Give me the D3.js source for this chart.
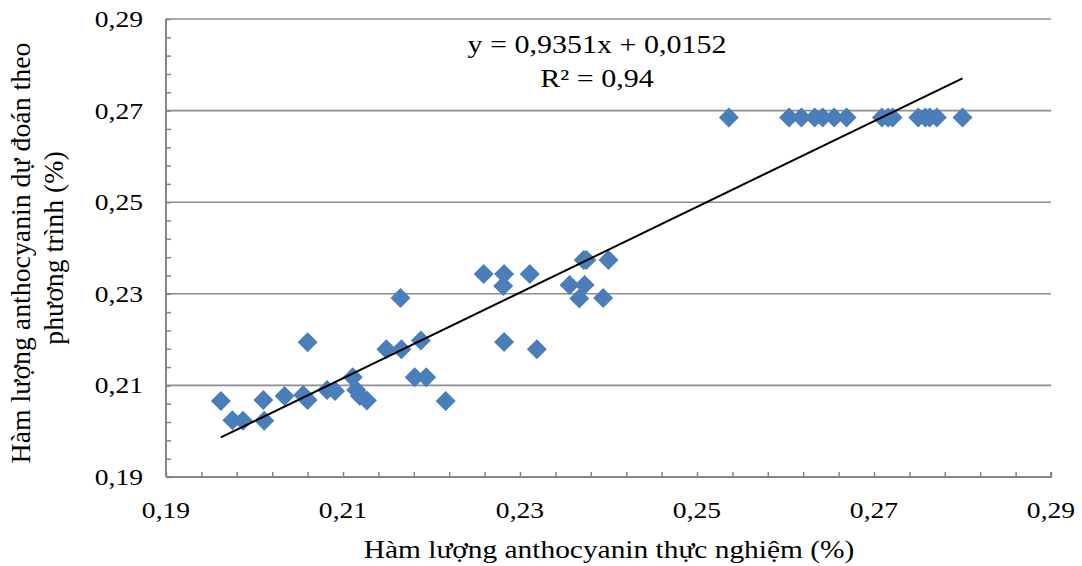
<!DOCTYPE html>
<html><head><meta charset="utf-8">
<script src="https://cdn.jsdelivr.net/npm/d3@7"></script>
<style>html,body{margin:0;padding:0;background:#fff;}svg{display:block;}</style>
</head><body>
<svg id="c" width="1082" height="566"></svg>
<script>
// Experimental (x) and predicted (y) anthocyanin content (%)
const expX = [0.1962,0.1975,0.1987,0.2010,0.2011,0.2034,0.2055,0.2060,0.2060,0.2082,0.2091,0.2111,0.2115,0.2119,0.2127,
  0.2149,0.2165,0.2166,0.2181,0.2194,0.2188,0.2216,0.2259,0.2282,0.2281,0.2311,0.2282,0.2319,0.2356,0.2367,0.2372,0.2375,0.2373,0.2394,0.2400,
  0.2536,0.2604,0.2618,0.2633,0.2642,0.2655,0.2669,0.2709,0.2716,0.2721,0.2750,0.2758,0.2763,0.2771,0.2800];
const predY = [0.2066,0.2024,0.2023,0.2068,0.2023,0.2077,0.2079,0.2068,0.2194,0.2090,0.2088,0.2118,0.2090,0.2077,0.2067,
  0.2179,0.2291,0.2179,0.2118,0.2118,0.2198,0.2066,0.2343,0.2343,0.2317,0.2343,0.2195,0.2179,0.2319,0.2290,0.2374,0.2374,0.2319,0.2291,0.2374,
  0.2685,0.2685,0.2685,0.2685,0.2685,0.2685,0.2685,0.2685,0.2685,0.2685,0.2685,0.2685,0.2685,0.2685,0.2685];
const tickValues = [0.19,0.21,0.23,0.25,0.27,0.29];
const tickLabels = ["0,19","0,21","0,23","0,25","0,27","0,29"];
const slope = 0.9351, intercept = 0.0152;
const eqText = "y = 0,9351x + 0,0152";
const r2Text = "R² = 0,94";
const xTitle = "Hàm lượng anthocyanin thực nghiệm (%)";
const yTitle = ["Hàm lượng anthocyanin dự đoán theo", "phương trình (%)"];

const svg = d3.select("#c");
const L=166, R=1051, T=19, B=477;
const x = d3.scaleLinear().domain([0.19,0.29]).range([L,R]);
const y = d3.scaleLinear().domain([0.19,0.29]).range([B,T]);
const FONT = "'Liberation Serif','Times New Roman',serif";
const SX = 1.2;
const axisCol = "#868686";

// gridlines
svg.append("g").selectAll("line").data(tickValues.slice(1)).join("line")
  .attr("x1",L).attr("x2",R).attr("y1",d=>y(d)).attr("y2",d=>y(d))
  .attr("stroke","#8e8e8e").attr("stroke-width",1.6);

// axes via d3 axis, minor ticks inward
const minor = d3.range(0,26).map(i=>0.19+i*0.004);
const xAxis = d3.axisBottom(x).tickValues(minor).tickSize(-5).tickFormat("");
const gx = svg.append("g").attr("transform",`translate(0,${B})`).call(xAxis);
gx.select(".domain").attr("d",`M${L},0H${R}V-5`).attr("stroke",axisCol).attr("stroke-width",2);
gx.selectAll(".tick line").attr("stroke",axisCol).attr("stroke-width",1.5);
const yAxis = d3.axisLeft(y).tickValues(minor).tickSize(-5).tickFormat("");
const gy = svg.append("g").attr("transform",`translate(${L},0)`).call(yAxis);
gy.select(".domain").attr("d",`M0,${T}V${B}`).attr("stroke",axisCol).attr("stroke-width",2);
gy.selectAll(".tick line").attr("stroke",axisCol).attr("stroke-width",1.5);

function stxt(tx,ty,str,size,anchor,rot){
  const t = svg.append("text")
    .attr("transform",`translate(${tx},${ty}) rotate(${rot||0}) scale(${rot?1:SX},1)`)
    .attr("text-anchor",anchor).attr("font-family",FONT).attr("font-size",size).attr("fill","#000").text(str);
  return t;
}
// tick labels
tickValues.forEach((v,i)=>{
  stxt(143, y(v)+8, tickLabels[i], 23, "end");
  stxt(x(v), 518, tickLabels[i], 23, "middle");
});

// points
const pts = expX.map((d,i)=>[d,predY[i]]);
svg.append("g").selectAll("path").data(pts).join("path")
  .attr("d",d=>{const cx=x(d[0]),cy=y(d[1]),h=10;return `M${cx},${cy-h}L${cx+h},${cy}L${cx},${cy+h}L${cx-h},${cy}Z`;})
  .attr("fill","#4a7ebb");

// trendline
const xmin=d3.min(expX), xmax=d3.max(expX);
svg.append("line").attr("x1",x(xmin)).attr("y1",y(slope*xmin+intercept))
  .attr("x2",x(xmax)).attr("y2",y(slope*xmax+intercept))
  .attr("stroke","#000").attr("stroke-width",2);

// equation
stxt(597, 53, eqText, 25, "middle");
stxt(597, 87, r2Text, 25, "middle");

// axis titles
stxt(609, 558, xTitle, 24.5, "middle");
stxt(30, 253, yTitle[0], 27.8, "middle", -90);
stxt(63, 248, yTitle[1], 27.8, "middle", -90);
</script>
</body></html>
